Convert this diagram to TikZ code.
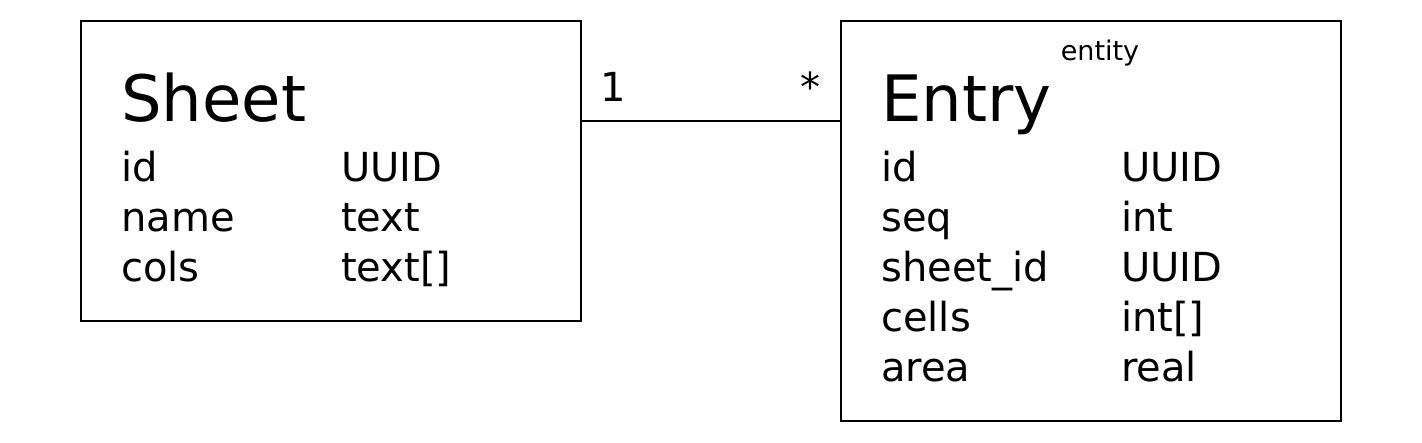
\documentclass[tikz,border=0pt]{standalone}
\usepackage{fontspec}
\setmainfont{DejaVu Sans}
\begin{document}
\begin{tikzpicture}[x=1pt,y=-1pt,
  box/.style={draw=black,line width=2pt,fill=white},
  title/.style={anchor=base west,inner sep=0pt,font=\fontsize{64}{64}\selectfont},
  attr/.style={anchor=base west,inner sep=0pt,font=\fontsize{40}{40}\selectfont},
  small/.style={anchor=base,inner sep=0pt,font=\fontsize{27}{27}\selectfont},
  conn/.style={line width=2pt}]
\useasboundingbox[fill=white] (0,0) rectangle (1422,442);
% boxes
\draw[box] (81,21) rectangle (581,321);
\draw[box] (841,21) rectangle (1341,421);
\coordinate (sheetE) at (581,121);
\coordinate (entryW) at (841,121);
\draw[conn] (sheetE) -- (entryW);
% Sheet
\node[title] (sheetT) at (121,121) {Sheet};
\node[attr] (s1) at (121,181) {id};
\node[attr] (s1t) at (341,181) {UUID};
\node[attr] (s2) at (121,231) {name};
\node[attr] (s2t) at (341,231) {text};
\node[attr] (s3) at (121,281) {cols};
\node[attr] (s3t) at (341,281) {text[]};
% Entry
\node[small] (stereo) at (1100,60) {entity};
\node[title] (entryT) at (881,121) {Entry};
\node[attr] (e1) at (881,181) {id};
\node[attr] (e1t) at (1121,181) {UUID};
\node[attr] (e2) at (881,231) {seq};
\node[attr] (e2t) at (1121,231) {int};
\node[attr] (e3) at (881,281) {sheet\_id};
\node[attr] (e3t) at (1121,281) {UUID};
\node[attr] (e4) at (881,331) {cells};
\node[attr] (e4t) at (1121,331) {int[]};
\node[attr] (e5) at (881,381) {area};
\node[attr] (e5t) at (1121,381) {real};
% multiplicities
\node[attr] (m1) at (600,101) {1};
\node[attr] (m2) at (800,101) {*};
\end{tikzpicture}
\end{document}
